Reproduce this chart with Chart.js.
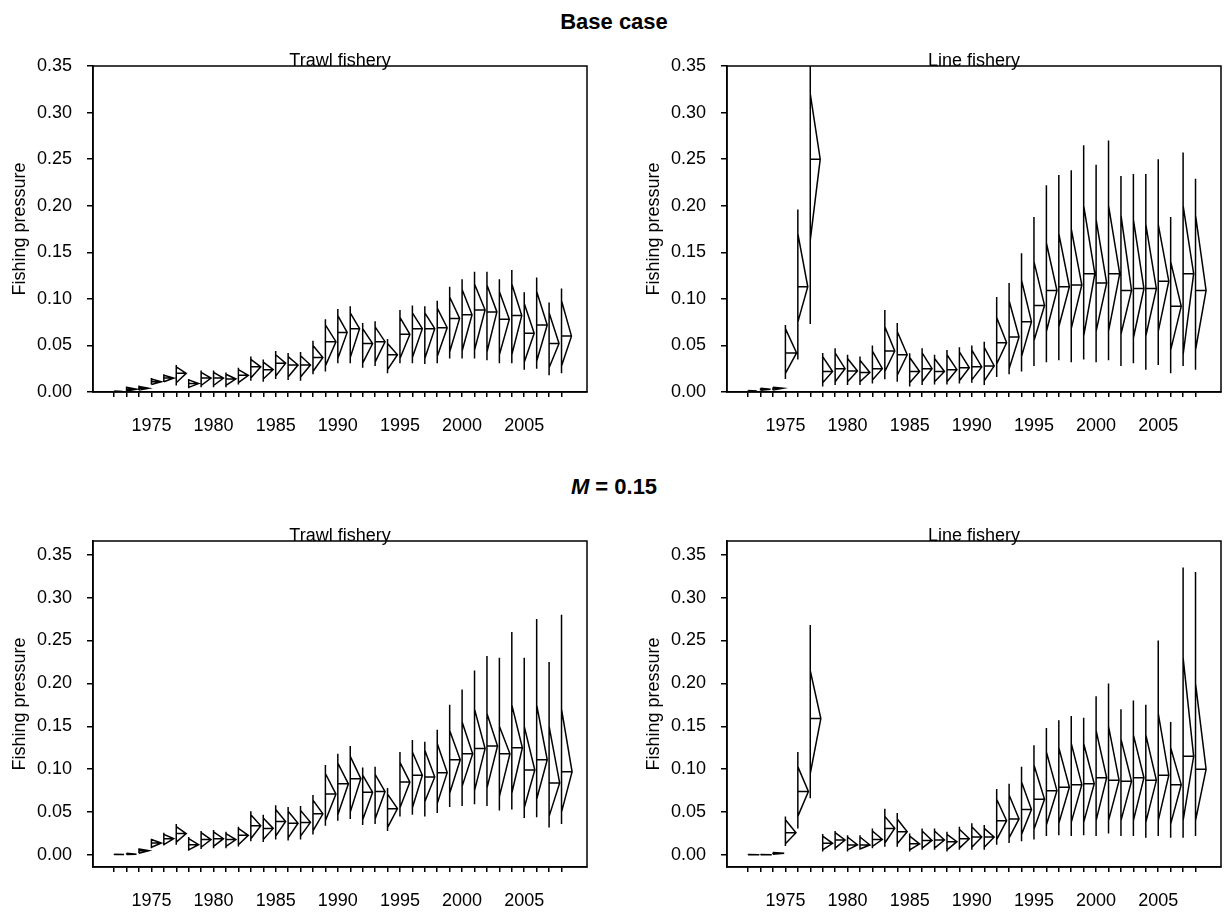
<!DOCTYPE html>
<html>
<head>
<meta charset="utf-8">
<title>Fishing pressure</title>
<script src="https://cdn.jsdelivr.net/npm/chart.js@4.4.1/dist/chart.umd.min.js"></script>
<style>
  body { margin: 0; background: #fff; font-family: "Liberation Sans", Arial, sans-serif; color: #000; }
  #page { position: relative; width: 1228px; height: 916px; overflow: hidden; }
  canvas { position: absolute; }
  .main-title { position: absolute; left: 0; width: 1228px; text-align: center; font-weight: bold; font-size: 22px; line-height: 26px; }
  .sub-title { position: absolute; font-size: 18px; line-height: 18px; transform: translateX(-50%); white-space: nowrap; }
</style>
</head>
<body>
<div id="page">
  <div class="main-title" style="top: 9px;">Base case</div>
  <div class="main-title" style="top: 474px;"><i>M</i> = 0.15</div>

  <canvas id="trawlBase" width="614" height="400" style="left: 0; top: 40px;"></canvas>
  <canvas id="lineBase" width="594" height="400" style="left: 634px; top: 40px;"></canvas>
  <canvas id="trawlM15" width="614" height="410" style="left: 0; top: 500px;"></canvas>
  <canvas id="lineM15" width="594" height="410" style="left: 634px; top: 500px;"></canvas>

  <div class="sub-title" style="left: 340px; top: 51px;">Trawl fishery</div>
  <div class="sub-title" style="left: 974px; top: 51px;">Line fishery</div>
  <div class="sub-title" style="left: 340px; top: 526px;">Trawl fishery</div>
  <div class="sub-title" style="left: 974px; top: 526px;">Line fishery</div>
</div>

<script>
const years = [1972, 1973, 1974, 1975, 1976, 1977, 1978, 1979, 1980, 1981, 1982, 1983,
               1984, 1985, 1986, 1987, 1988, 1989, 1990, 1991, 1992, 1993, 1994, 1995,
               1996, 1997, 1998, 1999, 2000, 2001, 2002, 2003, 2004, 2005, 2006, 2007, 2008];
const labelYears = [1975, 1980, 1985, 1990, 1995, 2000, 2005];
const yTicks = [0, 0.05, 0.10, 0.15, 0.20, 0.25, 0.30, 0.35];

// Trawl fishery, base case
// Lo/Hi: ends of the range line, DLo/DHi: where the density outline meets it,
// Med: median bar, W: width of the density peak (in years)
const trawlBaseLo  = [0.0003, 0.001, 0.002, 0.008, 0.011, 0.007, 0.004, 0.005, 0.005, 0.005, 0.008, 0.012, 0.011,
                      0.014, 0.013, 0.012, 0.019, 0.022, 0.031, 0.031, 0.026, 0.028, 0.020, 0.031, 0.031, 0.030,
                      0.031, 0.036, 0.036, 0.036, 0.034, 0.031, 0.031, 0.024, 0.025, 0.018, 0.020];
const trawlBaseDLo = [0.0003, 0.001, 0.002, 0.008, 0.011, 0.010, 0.005, 0.007, 0.007, 0.007, 0.010, 0.015, 0.014,
                      0.017, 0.016, 0.016, 0.022, 0.028, 0.036, 0.037, 0.031, 0.032, 0.024, 0.036, 0.037, 0.036,
                      0.038, 0.043, 0.044, 0.045, 0.043, 0.040, 0.040, 0.032, 0.033, 0.026, 0.028];
const trawlBaseMed = [0.0005, 0.003, 0.004, 0.011, 0.015, 0.020, 0.009, 0.015, 0.015, 0.014, 0.018, 0.027, 0.024,
                      0.031, 0.029, 0.029, 0.037, 0.054, 0.064, 0.068, 0.052, 0.054, 0.040, 0.062, 0.068, 0.068,
                      0.069, 0.079, 0.083, 0.088, 0.086, 0.078, 0.082, 0.063, 0.072, 0.052, 0.060];
const trawlBaseDHi = [0.001, 0.005, 0.006, 0.014, 0.018, 0.027, 0.013, 0.021, 0.021, 0.019, 0.024, 0.035, 0.032,
                      0.040, 0.038, 0.039, 0.050, 0.072, 0.082, 0.085, 0.068, 0.070, 0.052, 0.080, 0.085, 0.085,
                      0.090, 0.102, 0.110, 0.116, 0.115, 0.108, 0.116, 0.095, 0.108, 0.085, 0.098];
const trawlBaseHi  = [0.001, 0.006, 0.007, 0.015, 0.019, 0.029, 0.014, 0.023, 0.023, 0.021, 0.026, 0.038, 0.035,
                      0.044, 0.042, 0.043, 0.055, 0.078, 0.089, 0.092, 0.074, 0.076, 0.057, 0.088, 0.093, 0.092,
                      0.098, 0.113, 0.121, 0.129, 0.129, 0.121, 0.131, 0.107, 0.123, 0.096, 0.111];
const trawlBaseW   = [0.7, 0.8, 0.8, 0.8, 0.8, 0.8, 0.8, 0.8, 0.8, 0.8, 0.8, 0.8, 0.8,
                      0.8, 0.8, 0.8, 0.8, 0.85, 0.75, 0.75, 0.8, 0.8, 0.8, 0.8, 0.8, 0.8,
                      0.8, 0.8, 0.8, 0.85, 0.8, 0.8, 0.8, 0.8, 0.85, 0.8, 0.8];

// Line fishery, base case
const lineBaseLo  = [0.0005, 0.002, 0.002, 0.014, 0.035, 0.073, 0.006, 0.0075, 0.0075, 0.0075, 0.009, 0.0136, 0.011,
                     0.006, 0.0075, 0.008, 0.008, 0.009, 0.010, 0.0075, 0.016, 0.019, 0.022, 0.028, 0.032, 0.034,
                     0.032, 0.035, 0.032, 0.034, 0.028, 0.031, 0.024, 0.029, 0.020, 0.028, 0.024];
const lineBaseDLo = [0.0005, 0.002, 0.002, 0.020, 0.075, 0.163, 0.010, 0.011, 0.011, 0.011, 0.013, 0.022, 0.018,
                     0.010, 0.011, 0.011, 0.011, 0.012, 0.013, 0.012, 0.030, 0.025, 0.038, 0.055, 0.065, 0.070,
                     0.068, 0.060, 0.065, 0.065, 0.062, 0.058, 0.060, 0.065, 0.045, 0.040, 0.045];
const lineBaseMed = [0.001, 0.003, 0.004, 0.042, 0.113, 0.250, 0.022, 0.025, 0.0225, 0.021, 0.025, 0.044, 0.040,
                     0.022, 0.025, 0.022, 0.024, 0.026, 0.027, 0.028, 0.053, 0.059, 0.0755, 0.093, 0.109, 0.113,
                     0.115, 0.127, 0.117, 0.127, 0.109, 0.111, 0.111, 0.119, 0.092, 0.127, 0.109];
const lineBaseDHi = [0.0015, 0.004, 0.005, 0.068, 0.170, 0.320, 0.038, 0.042, 0.036, 0.034, 0.044, 0.070, 0.065,
                     0.037, 0.042, 0.036, 0.040, 0.043, 0.045, 0.048, 0.080, 0.098, 0.120, 0.140, 0.160, 0.170,
                     0.175, 0.200, 0.185, 0.200, 0.190, 0.185, 0.180, 0.180, 0.140, 0.200, 0.190];
const lineBaseHi  = [0.0015, 0.004, 0.005, 0.072, 0.196, 0.380, 0.042, 0.047, 0.040, 0.038, 0.050, 0.088, 0.074,
                     0.0415, 0.047, 0.040, 0.045, 0.048, 0.050, 0.054, 0.102, 0.117, 0.149, 0.188, 0.222, 0.233,
                     0.238, 0.265, 0.244, 0.270, 0.232, 0.234, 0.234, 0.250, 0.188, 0.257, 0.229];
const lineBaseW   = [0.7, 0.8, 0.8, 0.9, 0.8, 0.8, 0.8, 0.8, 0.8, 0.8, 0.8, 0.8, 0.8,
                     0.8, 0.8, 0.8, 0.8, 0.8, 0.8, 0.8, 0.8, 0.8, 0.8, 0.85, 0.85, 0.85,
                     0.85, 0.9, 0.85, 0.9, 0.85, 0.85, 0.85, 0.85, 0.85, 0.85, 0.85];

// Trawl fishery, M = 0.15
const trawlM15Lo  = [0.0002, 0.0005, 0.002, 0.008, 0.011, 0.012, 0.005, 0.007, 0.008, 0.008, 0.010, 0.016, 0.015,
                     0.018, 0.017, 0.018, 0.024, 0.034, 0.040, 0.042, 0.035, 0.036, 0.028, 0.045, 0.047, 0.045,
                     0.049, 0.056, 0.057, 0.059, 0.057, 0.052, 0.053, 0.043, 0.044, 0.032, 0.036];
const trawlM15DLo = [0.0002, 0.0005, 0.002, 0.009, 0.012, 0.015, 0.006, 0.009, 0.010, 0.010, 0.012, 0.019, 0.018,
                     0.022, 0.020, 0.022, 0.028, 0.040, 0.047, 0.050, 0.041, 0.042, 0.032, 0.055, 0.055, 0.062,
                     0.060, 0.072, 0.080, 0.075, 0.078, 0.068, 0.072, 0.055, 0.065, 0.045, 0.050];
const trawlM15Med = [0.0005, 0.001, 0.005, 0.014, 0.019, 0.025, 0.012, 0.018, 0.019, 0.018, 0.023, 0.034, 0.031,
                     0.039, 0.037, 0.038, 0.048, 0.071, 0.083, 0.089, 0.073, 0.074, 0.054, 0.085, 0.093, 0.091,
                     0.096, 0.111, 0.118, 0.124, 0.127, 0.118, 0.125, 0.099, 0.111, 0.084, 0.097];
const trawlM15DHi = [0.001, 0.002, 0.007, 0.018, 0.024, 0.033, 0.019, 0.026, 0.027, 0.025, 0.031, 0.047, 0.043,
                     0.053, 0.051, 0.052, 0.064, 0.095, 0.107, 0.115, 0.093, 0.094, 0.071, 0.108, 0.120, 0.122,
                     0.130, 0.145, 0.155, 0.170, 0.165, 0.150, 0.175, 0.150, 0.175, 0.150, 0.170];
const trawlM15Hi  = [0.001, 0.002, 0.008, 0.019, 0.026, 0.036, 0.021, 0.028, 0.029, 0.027, 0.033, 0.051, 0.047,
                     0.058, 0.056, 0.057, 0.070, 0.105, 0.118, 0.127, 0.102, 0.103, 0.078, 0.120, 0.134, 0.132,
                     0.146, 0.175, 0.193, 0.215, 0.232, 0.230, 0.260, 0.230, 0.275, 0.225, 0.280];
const trawlM15W   = [0.8, 0.8, 0.8, 0.8, 0.8, 0.8, 0.8, 0.8, 0.8, 0.8, 0.8, 0.8, 0.8,
                     0.8, 0.8, 0.8, 0.8, 0.85, 0.85, 0.85, 0.8, 0.8, 0.8, 0.8, 0.8, 0.8,
                     0.8, 0.85, 0.85, 0.85, 0.85, 0.85, 0.85, 0.85, 0.85, 0.85, 0.85];

// Line fishery, M = 0.15
const lineM15Lo  = [0.0, 0.0, 0.001, 0.0105, 0.031, 0.066, 0.004, 0.006, 0.004, 0.006, 0.008, 0.0097, 0.0097,
                    0.004, 0.006, 0.006, 0.004, 0.006, 0.006, 0.006, 0.012, 0.014, 0.016, 0.018, 0.022, 0.023,
                    0.022, 0.023, 0.022, 0.025, 0.022, 0.022, 0.020, 0.022, 0.020, 0.020, 0.022];
const lineM15DLo = [0.0, 0.0, 0.001, 0.013, 0.045, 0.095, 0.006, 0.008, 0.006, 0.007, 0.010, 0.014, 0.013,
                    0.006, 0.008, 0.008, 0.006, 0.008, 0.009, 0.009, 0.018, 0.020, 0.024, 0.030, 0.035, 0.037,
                    0.038, 0.038, 0.040, 0.040, 0.040, 0.040, 0.038, 0.040, 0.036, 0.040, 0.040];
const lineM15Med = [0.0003, 0.0003, 0.002, 0.026, 0.074, 0.159, 0.0136, 0.0175, 0.0117, 0.0117, 0.018, 0.031, 0.027,
                    0.013, 0.017, 0.0175, 0.0155, 0.019, 0.021, 0.021, 0.040, 0.042, 0.053, 0.065, 0.075, 0.079,
                    0.082, 0.083, 0.090, 0.087, 0.086, 0.090, 0.087, 0.093, 0.082, 0.115, 0.100];
const lineM15DHi = [0.0006, 0.0006, 0.003, 0.041, 0.103, 0.215, 0.022, 0.026, 0.021, 0.021, 0.028, 0.045, 0.042,
                    0.022, 0.028, 0.028, 0.024, 0.030, 0.033, 0.031, 0.065, 0.070, 0.085, 0.105, 0.120, 0.125,
                    0.130, 0.130, 0.145, 0.150, 0.135, 0.140, 0.140, 0.165, 0.125, 0.230, 0.200];
const lineM15Hi  = [0.0006, 0.0006, 0.003, 0.045, 0.120, 0.268, 0.0245, 0.028, 0.023, 0.023, 0.031, 0.054, 0.049,
                    0.025, 0.031, 0.031, 0.027, 0.033, 0.037, 0.035, 0.077, 0.083, 0.103, 0.128, 0.148, 0.157,
                    0.162, 0.160, 0.185, 0.200, 0.170, 0.180, 0.175, 0.250, 0.155, 0.335, 0.330];
const lineM15W   = [0.9, 0.9, 0.9, 0.85, 0.85, 0.85, 0.8, 0.8, 0.8, 0.8, 0.8, 0.8, 0.8,
                    0.8, 0.8, 0.8, 0.8, 0.8, 0.8, 0.8, 0.8, 0.8, 0.8, 0.85, 0.85, 0.85,
                    0.85, 0.85, 0.85, 0.85, 0.85, 0.85, 0.85, 0.85, 0.85, 0.85, 0.85];

Chart.defaults.font.family = '"Liberation Sans", Arial, sans-serif';
Chart.defaults.font.size = 18;
Chart.defaults.color = '#000';

// box round the plot area
const frame = {
    id: 'frame',
    afterDraw(chart) {
        const { ctx, chartArea: a } = chart;
        ctx.save();
        ctx.strokeStyle = '#000';
        ctx.lineWidth = 1.5;
        ctx.strokeRect(a.left, a.top, a.right - a.left, a.bottom - a.top);
        ctx.restore();
    }
};

// per year: range line, half density outline, median bar (null breaks the path)
function strips(s) {
    const pts = [];
    years.forEach((yr, i) => {
        pts.push({ x: yr, y: s.lo[i] }, { x: yr, y: s.hi[i] }, { x: yr, y: null });
        pts.push({ x: yr, y: s.dHi[i] }, { x: yr + s.w[i], y: s.med[i] }, { x: yr, y: s.dLo[i] }, { x: yr, y: null });
        pts.push({ x: yr, y: s.med[i] }, { x: yr + s.w[i], y: s.med[i] }, { x: yr, y: null });
    });
    return pts;
}

function panel(id, s, cfg) {
    const ctx = document.getElementById(id).getContext('2d');
    return new Chart(ctx, {
        type: 'scatter',
        data: {
            datasets: [{
                data: strips(s),
                showLine: true,
                spanGaps: false,
                borderColor: '#000',
                borderWidth: 1.5,
                pointRadius: 0,
                pointHoverRadius: 0,
            }],
        },
        options: {
            responsive: false,
            animation: false,
            layout: { padding: { left: 0, top: cfg.padTop, right: cfg.padRight, bottom: 0 } },
            plugins: { legend: { display: false }, tooltip: { enabled: false } },
            scales: {
                x: {
                    type: 'linear',
                    min: 1970.3,
                    max: 2010.05,
                    afterBuildTicks: axis => { axis.ticks = years.map(v => ({ value: v })); },
                    afterFit: axis => { axis.height = cfg.xHeight; },
                    ticks: {
                        autoSkip: false,
                        maxRotation: 0,
                        padding: 18,
                        callback: v => labelYears.includes(v) ? String(v) : '',
                    },
                    grid: { drawOnChartArea: false, drawTicks: true, tickLength: 5, color: '#000', lineWidth: 1.5 },
                    border: { display: true, color: '#000', width: 1.5 },
                },
                y: {
                    min: cfg.yMin,
                    max: cfg.yMax,
                    afterBuildTicks: axis => { axis.ticks = yTicks.map(v => ({ value: v })); },
                    afterFit: axis => { axis.width = 93; },
                    ticks: { padding: 15, callback: v => v.toFixed(2) },
                    grid: { drawOnChartArea: false, drawTicks: true, tickLength: 6, color: '#000', lineWidth: 1.5 },
                    border: { display: true, color: '#000', width: 1.5 },
                    title: { display: true, text: 'Fishing pressure', padding: { top: 9, bottom: 0 } },
                },
            },
        },
        plugins: [frame],
    });
}

const topCfg = { yMin: 0, yMax: 0.35, padTop: 26, xHeight: 48 };
const botCfg = { yMin: -0.014, yMax: 0.366, padTop: 41, xHeight: 43 };

panel('trawlBase', { lo: trawlBaseLo, dLo: trawlBaseDLo, med: trawlBaseMed, dHi: trawlBaseDHi, hi: trawlBaseHi, w: trawlBaseW },
      { ...topCfg, padRight: 27 });
panel('lineBase', { lo: lineBaseLo, dLo: lineBaseDLo, med: lineBaseMed, dHi: lineBaseDHi, hi: lineBaseHi, w: lineBaseW },
      { ...topCfg, padRight: 7 });
panel('trawlM15', { lo: trawlM15Lo, dLo: trawlM15DLo, med: trawlM15Med, dHi: trawlM15DHi, hi: trawlM15Hi, w: trawlM15W },
      { ...botCfg, padRight: 27 });
panel('lineM15', { lo: lineM15Lo, dLo: lineM15DLo, med: lineM15Med, dHi: lineM15DHi, hi: lineM15Hi, w: lineM15W },
      { ...botCfg, padRight: 7 });
</script>
</body>
</html>
